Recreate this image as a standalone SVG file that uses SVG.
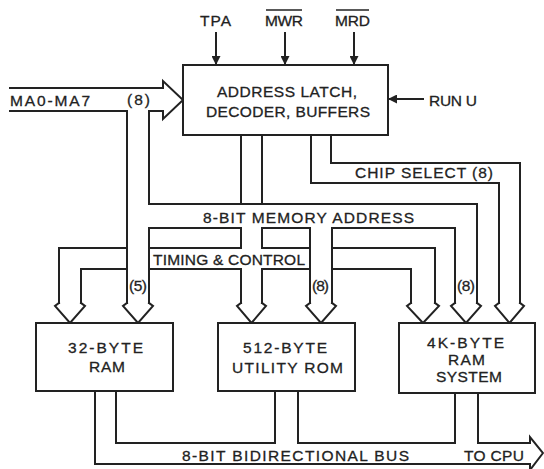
<svg xmlns="http://www.w3.org/2000/svg" width="544" height="469" viewBox="0 0 544 469">
<style>
  .ln { fill: none; stroke: #222; stroke-width: 2; stroke-linejoin: miter; stroke-linecap: square; }
  .box { fill: #fff; stroke: #222; stroke-width: 2; }
  .t { font-family: "Liberation Sans", "DejaVu Sans", sans-serif; font-size: 15.5px; fill: #222; stroke: #222; stroke-width: 0.3; }
  .sig { fill: none; stroke: #222; stroke-width: 2; marker-end: url(#ah); }
</style>
<defs>
  <marker id="ah" viewBox="0 0 10 10" refX="10" refY="5" markerWidth="4.5" markerHeight="4.5" orient="auto" markerUnits="strokeWidth">
    <path d="M0,0 L10,5 L0,10 Z" fill="#222"/>
  </marker>
</defs>
<rect width="544" height="469" fill="#fff"/>

<g id="connectors">
  <!-- input bus MA0-MA7 with arrowhead, joins memory address bus -->
  <path class="ln" d="M10,88 H163 V81 L183,100 L163,119 V111 H149 V204 H477 V303"/>
  <path class="ln" d="M10,111 H127 V303"/>
  <path class="ln" d="M149,228 V303"/>
  <!-- memory address bus lower line -->
  <path class="ln" d="M149,228 H241 M262,228 H310 M332,228 H455 V303"/>
  <!-- latch output bus -->
  <path class="ln" d="M241,135 V204 M262,135 V204 M241,228 V248 M262,228 V248"/>
  <!-- timing & control bus -->
  <path class="ln" d="M59,303 V248 H127 M149,248 H241 M262,248 H310 M332,248 H435 V303"/>
  <path class="ln" d="M81,303 V269 H127 M149,269 H241 M262,269 H310 M332,269 H411 V303"/>
  <path class="ln" d="M241,269 V303 M262,269 V303 M310,228 V303 M332,228 V303"/>
  <!-- chip select bus -->
  <path class="ln" d="M311,135 V183 H499 V303"/>
  <path class="ln" d="M331,135 V163 H520 V303"/>
  <!-- bus arrowheads into memories -->
  <path class="ln" d="M59,303 L55,306 L70,323 L85,306 L81,303"/>
  <path class="ln" d="M127,303 L123,306 L138,323 L153,306 L149,303"/>
  <path class="ln" d="M241,303 L237,306 L251.5,323 L266,306 L262,303"/>
  <path class="ln" d="M310,303 L306,306 L321,323 L336,306 L332,303"/>
  <path class="ln" d="M411,303 L407,306 L423,323 L439,306 L435,303"/>
  <path class="ln" d="M455,303 L451,306 L466,323 L481,306 L477,303"/>
  <path class="ln" d="M499,303 L495,306 L509.5,323 L524,306 L520,303"/>
  <!-- 8-bit bidirectional data bus -->
  <path class="ln" d="M95,391 V464 H530 V470 L543,453 L530,437 V443 H478 V393"/>
  <path class="ln" d="M116,391 V443 H275 V391"/>
  <path class="ln" d="M298,391 V443 H455 V393"/>
  <!-- control signal arrows -->
  <path class="sig" d="M216,32 V65"/>
  <path class="sig" d="M285,32 V65"/>
  <path class="sig" d="M354,32 V65"/>
  <path class="sig" d="M424,99 H388"/>
</g>

<g id="latch">
  <rect class="box" x="183" y="65" width="205" height="70"/>
  <text class="t" x="217" y="97" textLength="140">ADDRESS LATCH,</text>
  <text class="t" x="206" y="117" textLength="164">DECODER, BUFFERS</text>
</g>

<g id="ram32">
  <rect class="box" x="36" y="323" width="137" height="68"/>
  <text class="t" x="68" y="353" textLength="75">32-BYTE</text>
  <text class="t" x="89" y="372" textLength="36">RAM</text>
</g>

<g id="rom512">
  <rect class="box" x="218" y="323" width="137" height="68"/>
  <text class="t" x="243" y="353" textLength="84">512-BYTE</text>
  <text class="t" x="232" y="373" textLength="111">UTILITY ROM</text>
</g>

<g id="ram4k">
  <rect class="box" x="399" y="323" width="136" height="70"/>
  <text class="t" x="427" y="348" textLength="77">4K-BYTE</text>
  <text class="t" x="448" y="365" textLength="37">RAM</text>
  <text class="t" x="436" y="382" textLength="66">SYSTEM</text>
</g>

<g id="labels">
  <text class="t" x="200" y="26" textLength="31">TPA</text>
  <text class="t" x="265" y="26" textLength="38">MWR</text>
  <line x1="266" y1="10" x2="302" y2="10" stroke="#222" stroke-width="1.5"/>
  <text class="t" x="335" y="26" textLength="35">MRD</text>
  <line x1="336" y1="10" x2="369" y2="10" stroke="#222" stroke-width="1.5"/>
  <text class="t" x="429" y="106" textLength="48">RUN U</text>
  <text class="t" x="10" y="106" textLength="80">MA0-MA7</text>
  <text class="t" x="127" y="105" textLength="23">(8)</text>
  <text class="t" x="355" y="178" textLength="138">CHIP SELECT (8)</text>
  <text class="t" x="203" y="223" textLength="211">8-BIT MEMORY ADDRESS</text>
  <text class="t" x="153" y="265" textLength="152">TIMING &amp; CONTROL</text>
  <text class="t" x="129" y="291" textLength="18">(5)</text>
  <text class="t" x="312" y="291" textLength="17">(8)</text>
  <text class="t" x="457" y="291" textLength="18">(8)</text>
  <text class="t" x="182" y="461" textLength="227">8-BIT BIDIRECTIONAL BUS</text>
  <text class="t" x="464" y="461" textLength="60">TO CPU</text>
</g>
</svg>
